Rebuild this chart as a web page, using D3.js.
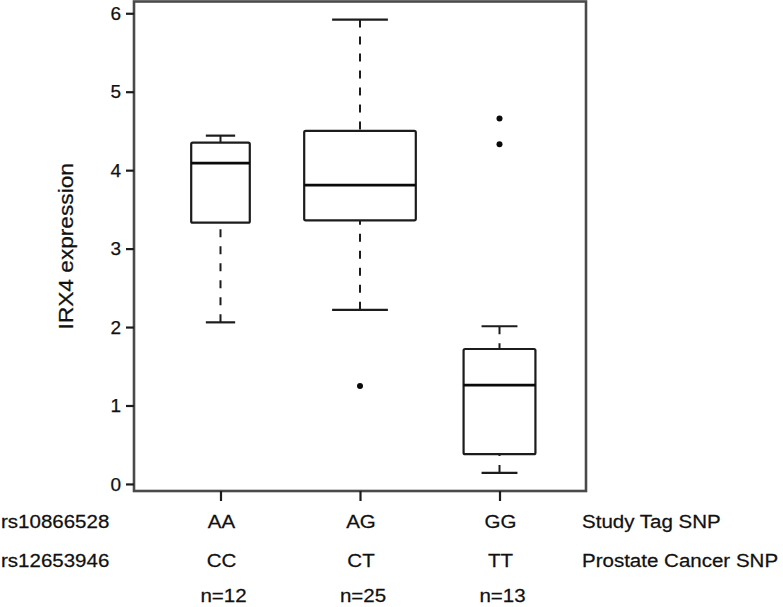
<!DOCTYPE html>
<html>
<head>
<meta charset="utf-8">
<script src="https://cdn.jsdelivr.net/npm/d3@7"></script>
<style>
  html, body { margin: 0; padding: 0; background: #fff; }
  svg { display: block; }
  text { font-family: "Liberation Sans", Arial, Helvetica, sans-serif; fill: #111; stroke: #111; stroke-width: 0.25; }
</style>
</head>
<body>
<svg id="chart" width="783" height="607"></svg>
<script>
// ---- data ----
const categories = ["AA", "AG", "GG"];
const secondSnp = ["CC", "CT", "TT"];
const counts = ["n=12", "n=25", "n=13"];
const whiskerLow = [2.06, 2.22, 0.14];
const q1 = [3.33, 3.36, 0.38];
const medians = [4.09, 3.81, 1.26];
const q3 = [4.35, 4.50, 1.72];
const whiskerHigh = [4.44, 5.92, 2.01];
const boxWidths = [0.42, 0.80, 0.515];   // relative box widths (x units)
const outliers = [[], [1.25], [4.66, 4.33]];
const yTicks = [0, 1, 2, 3, 4, 5, 6];
const rowLabels = ["rs10866528", "rs12653946"];
const rowNotes = ["Study Tag SNP", "Prostate Cancer SNP"];
const yLabel = "IRX4 expression";

// ---- layout ----
const svg = d3.select("#chart");
const frame = { left: 134, right: 586, top: 1.5, bottom: 491 };
const stretch = 1.08;

const x = d3.scaleLinear().domain([0.38, 3.62]).range([frame.left, frame.right]);
const y = d3.scaleLinear().domain([-0.09, 6.15]).range([frame.bottom, frame.top]);

const ink = "#1c1c1c";

// frame
svg.append("rect")
  .attr("x", frame.left).attr("y", frame.top)
  .attr("width", frame.right - frame.left).attr("height", frame.bottom - frame.top)
  .attr("fill", "none").attr("stroke", "#4a4a4a").attr("stroke-width", 2.6);

// y axis
const yAxis = d3.axisLeft(y).tickValues(yTicks).tickSize(8).tickPadding(5).tickFormat(d3.format("d"));
const gy = svg.append("g").attr("transform", `translate(${frame.left},0)`).call(yAxis);
gy.select(".domain").remove();
gy.selectAll(".tick line").attr("stroke", ink).attr("stroke-width", 2.2);
gy.selectAll(".tick text").style("font-size", "19px").attr("fill", "#111")
  .style("font-family", "'Liberation Sans', Arial, sans-serif");

// x axis ticks
const xAxis = d3.axisBottom(x).tickValues([1, 2, 3]).tickSize(10).tickFormat("");
const gx = svg.append("g").attr("transform", `translate(0,${frame.bottom})`).call(xAxis);
gx.select(".domain").remove();
gx.selectAll(".tick line").attr("stroke", ink).attr("stroke-width", 2.2);

// boxes
const data = categories.map((c, i) => ({
  i, pos: i + 1, lo: whiskerLow[i], q1: q1[i], med: medians[i], q3: q3[i], hi: whiskerHigh[i],
  w: boxWidths[i], out: outliers[i]
}));

const g = svg.append("g");
data.forEach(d => {
  const cx = x(d.pos);
  const half = x(d.pos + d.w / 2) - cx;
  g.append("line").attr("x1", cx).attr("x2", cx).attr("y1", y(d.lo)).attr("y2", y(d.q1))
    .attr("stroke", ink).attr("stroke-width", 2).attr("stroke-dasharray", "8,9");
  g.append("line").attr("x1", cx).attr("x2", cx).attr("y1", y(d.hi)).attr("y2", y(d.q3))
    .attr("stroke", ink).attr("stroke-width", 2).attr("stroke-dasharray", "8,9");
  [d.lo, d.hi].forEach(v => {
    g.append("line").attr("x1", cx - half / 2).attr("x2", cx + half / 2)
      .attr("y1", y(v)).attr("y2", y(v))
      .attr("stroke", ink).attr("stroke-width", 2.2);
  });
  g.append("rect").attr("x", cx - half).attr("y", y(d.q3))
    .attr("width", 2 * half).attr("height", y(d.q1) - y(d.q3))
    .attr("fill", "#fff").attr("stroke", ink).attr("stroke-width", 2.2)
    .attr("rx", 1.5);
  g.append("line").attr("x1", cx - half).attr("x2", cx + half)
    .attr("y1", y(d.med)).attr("y2", y(d.med))
    .attr("stroke", "#0a0a0a").attr("stroke-width", 2.8);
  d.out.forEach(v => {
    g.append("circle").attr("cx", cx).attr("cy", y(v)).attr("r", 3).attr("fill", "#0a0a0a");
  });
});

// y label
svg.append("text")
  .attr("transform", `translate(73,${(frame.top + frame.bottom) / 2}) rotate(-90) scale(${stretch},1)`)
  .attr("text-anchor", "middle")
  .style("font-size", "21px")
  .text(yLabel);

// bottom table
const rowY = [528, 566.5, 601.5];
const fs = "19px";
function put(sel, xf, yf, anchor) {
  sel.attr("transform", (d, i) => `translate(${xf(d, i)},${yf(d, i)}) scale(${stretch},1)`)
    .attr("text-anchor", anchor).style("font-size", fs).text(d => d);
}
put(svg.append("g").selectAll("text").data(rowLabels).join("text"), () => 1, (d, i) => rowY[i], "start");
put(svg.append("g").selectAll("text").data(rowNotes).join("text"), () => 582, (d, i) => rowY[i], "start");
put(svg.append("g").selectAll("text").data(categories).join("text"), (d, i) => x(i + 1) + 1, () => rowY[0], "middle");
put(svg.append("g").selectAll("text").data(secondSnp).join("text"), (d, i) => x(i + 1) + 1, () => rowY[1], "middle");
put(svg.append("g").selectAll("text").data(counts).join("text"), (d, i) => x(i + 1) + 3, () => rowY[2], "middle");
</script>
</body>
</html>
